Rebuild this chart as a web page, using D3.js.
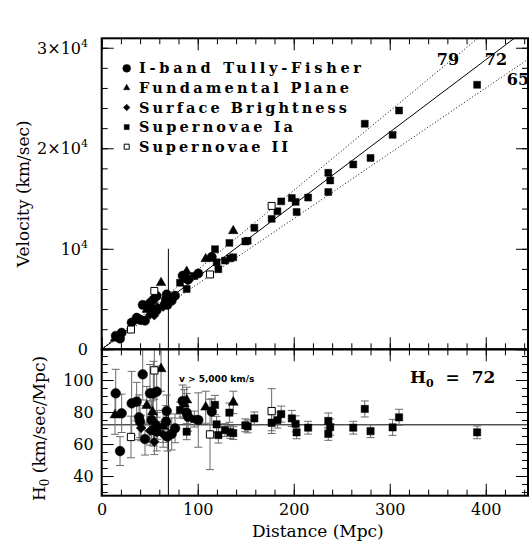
<!DOCTYPE html>
<html lang="en">
<head>
<meta charset="utf-8" />
<title>Hubble diagram</title>
<script src="https://cdn.jsdelivr.net/npm/d3@7"></script>
<style>
  body { margin: 0; background: #fff; }
  text { font-family: "DejaVu Serif", serif; }
</style>
</head>
<body>
<script>
// each point: [distance (Mpc), H0 (km/s/Mpc), error]
var tullyFisher = [
  [14.6, 91.7, 15], [20.8, 79.2, 12], [19.1, 55.6, 9], [31.2, 85.4, 20],
  [36.4, 86.5, 12], [38.9, 76.7, 14], [39.9, 74.0, 10], [42.7, 103.5, 16],
  [45.1, 63.1, 10], [50.3, 91.7, 18], [53.8, 91.7, 20], [57.3, 92.7, 16],
  [52.0, 75.0, 12], [53.8, 68.7, 10], [57.3, 67.7, 12], [67.7, 80.6, 10],
  [67.0, 74.0, 10], [68.4, 64.6, 9], [72.9, 66.3, 10], [76.4, 69.8, 9],
  [84.3, 86.9, 10], [88.5, 79.6, 12], [90.0, 77.0, 9], [100.6, 75.0, 17],
  [114.6, 80.2, 8]
];
var fundamentalPlane = [
  [13.9, 78.1, 12], [47.0, 84.0, 12], [53.0, 80.0, 12], [61.8, 107.0, 14],
  [64.0, 71.0, 10], [86.0, 85.0, 9], [88.5, 87.5, 8], [108.3, 83.0, 10],
  [137.0, 86.0, 7]
];
var surfaceBrightness = [
  [41.0, 70.0, 8], [50.3, 68.3, 9], [54.8, 61.4, 8], [58.0, 72.0, 9], [64.0, 66.0, 8]
];
var supernovaeIa = [
  [81.6, 81.2, 5], [88.5, 67.7, 5], [96.5, 75.6, 5], [118.0, 84.4, 6],
  [119.7, 72.3, 5], [121.5, 65.6, 5], [128.4, 68.7, 4], [133.0, 79.6, 6],
  [134.0, 67.5, 4], [137.0, 66.8, 4], [149.6, 71.7, 4], [152.0, 71.0, 4],
  [159.0, 76.0, 4], [177.0, 73.3, 5], [183.0, 75.0, 5], [187.0, 78.7, 5],
  [198.0, 76.0, 5], [202.0, 72.6, 5], [203.0, 67.3, 4], [215.0, 70.2, 4],
  [236.0, 74.4, 5], [236.0, 66.3, 4], [238.0, 70.6, 5], [262.0, 70.2, 4],
  [274.0, 81.9, 5], [280.0, 68.0, 4], [303.0, 70.4, 5], [309.7, 76.7, 5],
  [391.0, 67.3, 4]
];
var supernovaeII = [
  [30.5, 64.4, 13], [54.8, 106.0, 18], [112.8, 66.0, 22], [177.0, 80.6, 14]
];
var legendNames = ["I-band Tully-Fisher", "Fundamental Plane", "Surface Brightness",
                   "Supernovae Ia", "Supernovae II"];
var hubbleLines = [79, 72, 65];
var xTicks = [0, 100, 200, 300, 400];
var vTicks = [0, 10000, 20000, 30000];
var hTicks = [40, 60, 80, 100];
var cutVelocity = 5000;

var w = 531, h = 554;
var left = 101.7, right = 528;
var top1 = 38.3, mid = 349.3, bot = 495.7;

var xScale = d3.scaleLinear().domain([0, 444]).range([left, right]);
var vScale = d3.scaleLinear().domain([0, 30940]).range([mid, top1]);
var hScale = d3.scaleLinear().domain([27.7, 119.2]).range([bot, mid]);

var svg = d3.select("body").append("svg").attr("width", w).attr("height", h);

svg.append("clipPath").attr("id", "clipTop").append("rect")
  .attr("x", left).attr("y", top1).attr("width", right - left).attr("height", mid - top1);
svg.append("clipPath").attr("id", "clipBot").append("rect")
  .attr("x", left).attr("y", mid).attr("width", right - left).attr("height", bot - mid);

var series = [
  { name: legendNames[0], data: tullyFisher, type: "circle" },
  { name: legendNames[1], data: fundamentalPlane, type: "triangle" },
  { name: legendNames[2], data: surfaceBrightness, type: "diamond" },
  { name: legendNames[3], data: supernovaeIa, type: "square" },
  { name: legendNames[4], data: supernovaeII, type: "open" }
];

function symbolPath(type, s) {
  if (type == "circle") return d3.symbol(d3.symbolCircle, 64 * s)();
  if (type == "triangle") return d3.symbol(d3.symbolTriangle, 38 * s)();
  if (type == "diamond") return d3.symbol(d3.symbolSquare, 40 * s)();
  return d3.symbol(d3.symbolSquare, 46 * s)();
}
function drawMarks(g, type, pts, s) {
  g.selectAll("path.m").data(pts).enter().append("path")
    .attr("class", "m")
    .attr("d", symbolPath(type, s))
    .attr("transform", function (d) {
      return "translate(" + d[0] + "," + d[1] + ")" + (type == "diamond" ? " rotate(45)" : "");
    })
    .attr("fill", type == "open" ? "#fff" : "#000")
    .attr("stroke", "#000")
    .attr("stroke-width", type == "open" ? 1 : 0.5);
}

// ---- top panel: velocity vs distance
var gTop = svg.append("g").attr("clip-path", "url(#clipTop)");
hubbleLines.forEach(function (H) {
  gTop.append("line")
    .attr("x1", xScale(0)).attr("y1", vScale(0))
    .attr("x2", xScale(500)).attr("y2", vScale(500 * H))
    .attr("stroke", "#000").attr("stroke-width", 1)
    .attr("stroke-dasharray", H == 72 ? null : "1,2.2");
});
gTop.append("line")
  .attr("x1", xScale(cutVelocity / 72)).attr("x2", xScale(cutVelocity / 72))
  .attr("y1", vScale(10000)).attr("y2", vScale(0))
  .attr("stroke", "#000").attr("stroke-width", 1);

series.forEach(function (s) {
  var pts = s.data.map(function (d) { return [xScale(d[0]), vScale(d[0] * d[1])]; });
  drawMarks(gTop.append("g"), s.type, pts, 1.05);
});

// ---- bottom panel: H0 vs distance
var gBot = svg.append("g").attr("clip-path", "url(#clipBot)");
gBot.append("line")
  .attr("x1", left).attr("x2", right)
  .attr("y1", hScale(72)).attr("y2", hScale(72))
  .attr("stroke", "#000").attr("stroke-width", 1);
gBot.append("line")
  .attr("x1", xScale(cutVelocity / 72)).attr("x2", xScale(cutVelocity / 72))
  .attr("y1", mid).attr("y2", bot)
  .attr("stroke", "#000").attr("stroke-width", 1);

var errG = gBot.append("g").attr("stroke", "#6a6a6a").attr("stroke-width", 1);
series.forEach(function (s) {
  s.data.forEach(function (d) {
    var x = xScale(d[0]);
    var y1 = hScale(d[1] - d[2]), y2 = hScale(d[1] + d[2]);
    errG.append("line").attr("x1", x).attr("x2", x).attr("y1", y1).attr("y2", y2);
    errG.append("line").attr("x1", x - 4).attr("x2", x + 4).attr("y1", y1).attr("y2", y1);
    errG.append("line").attr("x1", x - 4).attr("x2", x + 4).attr("y1", y2).attr("y2", y2);
  });
});
series.forEach(function (s) {
  var pts = s.data.map(function (d) { return [xScale(d[0]), hScale(d[1])]; });
  drawMarks(gBot.append("g"), s.type, pts, 1.15);
});

// ---- axes (inward ticks, majors and minors)
function tickAxis(axis, scale, major, minor, size, pos, labels) {
  var g = svg.append("g").attr("transform", pos);
  g.call(axis(scale).tickValues(minor).tickSize(size / 2).tickFormat(""));
  var gm = svg.append("g").attr("transform", pos);
  gm.call(axis(scale).tickValues(major).tickSize(size).tickPadding(8)
    .tickFormat(labels ? labels : ""));
  [g, gm].forEach(function (a) {
    a.select(".domain").remove();
    a.selectAll("line").attr("stroke", "#000").attr("stroke-width", 1);
    a.selectAll("text").attr("font-family", "DejaVu Serif").attr("font-size", 16)
      .attr("fill", "#000");
  });
  return gm;
}
var xMinor = d3.range(0, 445, 20);
tickAxis(d3.axisTop, xScale, xTicks, xMinor, -12, "translate(0," + top1 + ")", null);
tickAxis(d3.axisBottom, xScale, xTicks, xMinor, -12, "translate(0," + mid + ")", null);
tickAxis(d3.axisTop, xScale, xTicks, xMinor, -12, "translate(0," + mid + ")", null);
tickAxis(d3.axisBottom, xScale, xTicks, xMinor, -12, "translate(0," + bot + ")", d3.format("d"));

var vMinor = d3.range(0, 30941, 2000);
tickAxis(d3.axisLeft, vScale, vTicks, vMinor, -12, "translate(" + left + ",0)", null);
tickAxis(d3.axisRight, vScale, vTicks, vMinor, -12, "translate(" + right + ",0)", null);
var hMinor = d3.range(30, 120, 5);
tickAxis(d3.axisLeft, hScale, hTicks, hMinor, -12, "translate(" + left + ",0)", d3.format("d"));
tickAxis(d3.axisRight, hScale, hTicks, hMinor, -12, "translate(" + right + ",0)", null);

// velocity tick labels with powers of ten
vTicks.forEach(function (v) {
  var t = svg.append("text").attr("x", 88).attr("y", vScale(v) + 6)
    .attr("text-anchor", "end").attr("font-size", 16);
  if (v == 0) { t.text("0"); return; }
  var m = v / 10000;
  if (m > 1) t.append("tspan").text(m + "\u00d7");
  t.append("tspan").text("10");
  t.append("tspan").attr("dy", -7).attr("font-size", 11).text("4");
});

// frames
svg.append("rect").attr("x", left).attr("y", top1).attr("width", right - left)
  .attr("height", mid - top1).attr("fill", "none").attr("stroke", "#000").attr("stroke-width", 2);
svg.append("rect").attr("x", left).attr("y", mid).attr("width", right - left)
  .attr("height", bot - mid).attr("fill", "none").attr("stroke", "#000").attr("stroke-width", 2);

// axis titles
svg.append("text").attr("transform", "translate(29," + ((top1 + mid) / 2) + ") rotate(-90)")
  .attr("text-anchor", "middle").attr("font-size", 17).text("Velocity (km/sec)");
var ht = svg.append("text").attr("transform", "translate(45," + ((mid + bot) / 2 + 6) + ") rotate(-90)")
  .attr("text-anchor", "middle").attr("font-size", 17);
ht.append("tspan").text("H");
ht.append("tspan").attr("dy", 4).attr("font-size", 12).text("0");
ht.append("tspan").attr("dy", -4).text(" (km/sec/Mpc)");
svg.append("text").attr("x", (left + right) / 2 + 3).attr("y", 537)
  .attr("text-anchor", "middle").attr("font-size", 17).text("Distance (Mpc)");

// legend
var legendWidths = [222, 210, 208, 154, 149];
series.forEach(function (s, i) {
  var y = 73.3 + i * 19.6;
  var sz = s.type == "circle" ? 0.75 : s.type == "triangle" ? 0.45 : 0.55;
  drawMarks(svg.append("g"), s.type, [[126.7, y - 5]], sz);
  svg.append("text").attr("x", 139).attr("y", y)
    .attr("font-size", 14.5).attr("font-weight", "bold")
    .attr("textLength", legendWidths[i]).attr("lengthAdjust", "spacing")
    .text(s.name);
});

// labels on the Hubble lines
var lineLabels = [[448, 65], [496, 65], [518, 85]];
hubbleLines.forEach(function (H, i) {
  svg.append("text").attr("x", lineLabels[i][0]).attr("y", lineLabels[i][1])
    .attr("text-anchor", "middle").attr("font-size", 16).attr("font-weight", "bold")
    .text(H);
});

// H0 = 72 annotation
var hl = svg.append("text").attr("x", 410).attr("y", 383)
  .attr("font-size", 17).attr("font-weight", "bold").attr("xml:space", "preserve");
hl.append("tspan").text("H");
hl.append("tspan").attr("dy", 4).attr("font-size", 11).text("0");
hl.append("tspan").attr("dy", -4).text("  =  72");

svg.append("text").attr("x", 179).attr("y", 382)
  .style("font-family", "DejaVu Sans").attr("font-size", 9).attr("font-weight", "bold")
  .text("v > 5,000 km/s");
</script>
</body>
</html>
